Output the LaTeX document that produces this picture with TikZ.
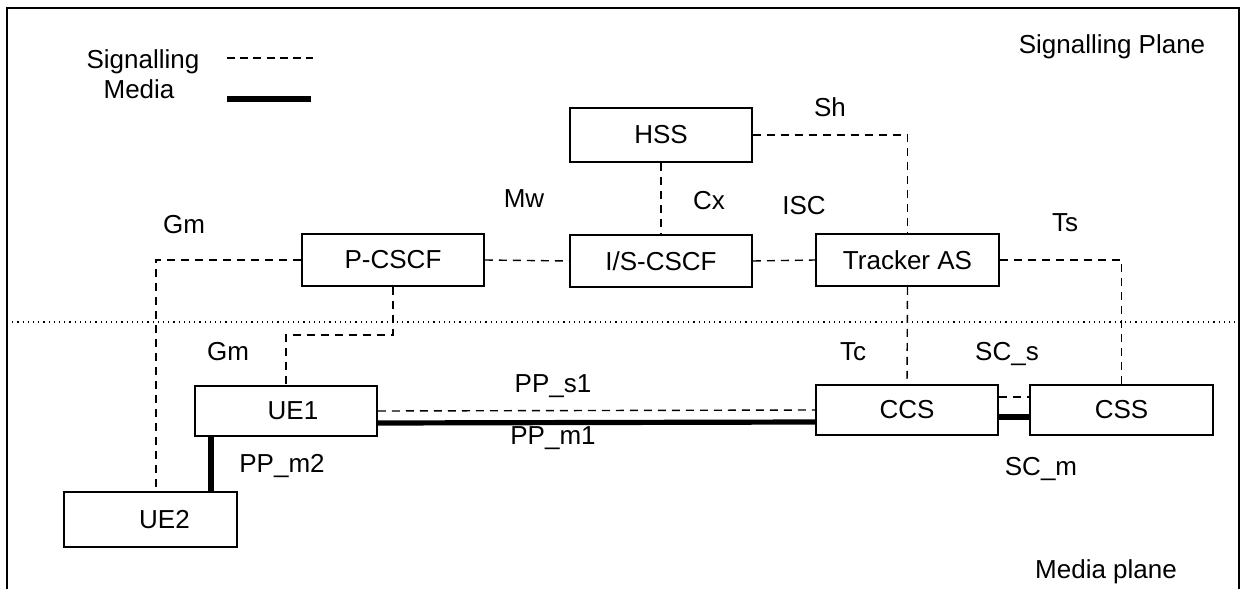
\documentclass[tikz,border=0pt]{standalone}
\usepackage{fontspec}
\setmainfont{Liberation Sans}
\begin{document}
\begin{tikzpicture}[x=0.5pt,y=-0.5pt,
  every node/.style={font=\fontsize{13pt}{15pt}\selectfont},
  box/.style={draw,line width=0.9pt,rectangle,inner sep=0pt,minimum width=91pt,minimum height=26pt},
  sig/.style={dash pattern=on 4pt off 3pt,line width=0.7pt},
  med/.style={line width=2.6pt},
  lbl/.style={inner sep=0pt}]
\useasboundingbox (0,0) rectangle (1240,588);
\draw[line width=0.8pt] (7,8) rectangle (1239,600);
\draw[dotted,line width=0.6pt] (7,322) -- (1239,322);
% legend
\node[lbl] (lsig) at (143,62) {Signalling};
\node[lbl] (lmed) at (139,89) {Media};
\coordinate (lsa) at (227,58); \coordinate (lsb) at (313,58);
\coordinate (lma) at (227,99); \coordinate (lmb) at (311,99);
\draw[sig,dash pattern=on 4pt off 2.6pt] (lsa) -- (lsb);
\draw[line width=3pt] (lma) -- (lmb);
\node[lbl] (splane) at (1112,47) {Signalling Plane};
\node[lbl] (mplane) at (1106,572) {Media plane};
% boxes
\node[box,minimum height=27pt] (hss) at (661,135) {HSS};
\node[box] (pcscf) at (393,260) {P-CSCF};
\node[box] (iscscf) at (661,261) {I/S-CSCF};
\node[box,minimum width=91.5pt] (tracker) at (907.5,260) {Tracker AS};
\node[box,minimum height=25pt] (ue1) at (286,411) {\hspace{7pt}UE1};
\node[box,minimum height=25pt] (ccs) at (907,410) {CCS};
\node[box,minimum width=91.5pt,minimum height=25pt] (css) at (1121.5,410) {CSS};
\node[box,minimum width=86.5pt,minimum height=27.5pt] (ue2) at (150.5,519.5) {\hspace{14pt}UE2};
% helper coordinates
\coordinate (gmx) at (156,0);
\coordinate (bendy) at (0,335);
\coordinate (pm2x) at (211,0);
% signalling connectors
\draw[sig] (hss.south) -- (iscscf.north);
\draw[sig] (hss.east) -| (tracker.north);
\draw[sig] (pcscf.east) -- (iscscf.west);
\draw[sig] (iscscf.east) -- (tracker.west);
\draw[sig] (tracker.east) -| (css.north);
\draw[sig] (tracker.south) -- (ccs.north);
\draw[sig] (pcscf.west) -| (ue2.north -| gmx);
\draw[sig] (pcscf.south) -- (pcscf.south |- bendy) -| (ue1.north);
\draw[sig] (ue1.east) -- (ccs.west);
\draw[sig] ([yshift=6.5pt]ccs.east) -- ([yshift=6.5pt]css.west);
% media connectors
\draw[med] ([yshift=-6pt]ue1.east) -- ([yshift=-6pt]ccs.west);
\draw[med] ([yshift=-3.5pt]ccs.east) -- ([yshift=-3.5pt]css.west);
\draw[med] (ue1.south -| pm2x) -- (ue2.north -| pm2x);
% interface labels
\node[lbl] (sh) at (830,107) {Sh};
\node[lbl] (cx) at (709,201) {Cx};
\node[lbl] (isc) at (804,206) {ISC};
\node[lbl] (mw) at (524,199) {Mw};
\node[lbl] (gm1) at (184,225) {Gm};
\node[lbl] (ts) at (1065,223) {Ts};
\node[lbl] (gm2) at (228,352) {Gm};
\node[lbl] (tc) at (853,352) {Tc};
\node[lbl] (scs) at (1007,354) {SC\_s};
\node[lbl] (pps1) at (553,386) {PP\_s1};
\node[lbl] (ppm1) at (553,438) {PP\_m1};
\node[lbl] (ppm2) at (282,466) {PP\_m2};
\node[lbl] (scm) at (1041,469) {SC\_m};
\end{tikzpicture}
\end{document}
